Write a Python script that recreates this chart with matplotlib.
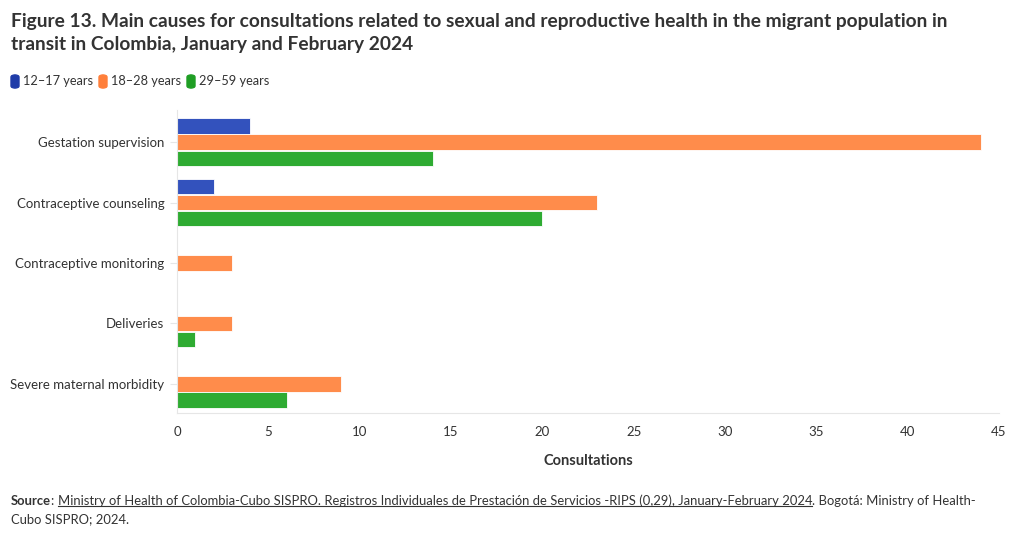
import matplotlib
matplotlib.use("Agg")
import matplotlib.pyplot as plt
import numpy as np
from matplotlib.patches import FancyBboxPatch

plt.rcParams["font.family"] = ["Lato", "DejaVu Sans"]

categories = [
    "Gestation supervision",
    "Contraceptive counseling",
    "Contraceptive monitoring",
    "Deliveries",
    "Severe maternal morbidity",
]
series_names = ["12\u201317 years", "18\u201328 years", "29\u201359 years"]
age_12_17 = [4, 2, 0, 0, 0]
age_18_28 = [44, 23, 3, 3, 9]
age_29_59 = [14, 20, 0, 1, 6]
x_ticks = [0, 5, 10, 15, 20, 25, 30, 35, 40, 45]

colors = ["#3352bd", "#ff8c4b", "#2eab32"]
legend_colors = ["#1f3ca8", "#ff7f3a", "#1f9e24"]
text_color = "#333333"

W, H = 1020, 538
fig = plt.figure(figsize=(W / 100, H / 100), dpi=100)
ax = fig.add_axes([177 / W, 1 - 413 / H, (999 - 177) / W, (413 - 110) / H])

y = np.arange(len(categories))
step = 0.265
bh = 0.25
for k, vals in enumerate([age_12_17, age_18_28, age_29_59]):
    ax.barh(y + (k - 1) * step, vals, height=bh, color=colors[k],
            edgecolor="white", linewidth=0.6)

ax.set_xlim(0, 45)
ax.set_ylim(4.48, -0.53)
ax.set_xticks(x_ticks)
ax.set_xticklabels([str(t) for t in x_ticks], fontsize=9.5, color=text_color)
ax.set_yticks(y)
ax.set_yticklabels(categories, fontsize=9.5, color=text_color)
ax.tick_params(axis="x", length=0, pad=9)
ax.tick_params(axis="y", length=5, color="#e6e6e6", pad=4)
for s in ["top", "right"]:
    ax.spines[s].set_visible(False)
ax.spines["left"].set_color("#e6e6e6")
ax.spines["bottom"].set_color("#e6e6e6")
ax.set_xlabel("Consultations", fontsize=10.5, fontweight="bold",
              color=text_color, labelpad=12)

# title
fig.text(11 / W, 1 - 13 / H,
         "Figure 13. Main causes for consultations related to sexual and reproductive health in the migrant population in\n"
         "transit in Colombia, January and February 2024",
         fontsize=13.8, fontweight="bold", color=text_color, va="top", ha="left",
         linespacing=1.4)

# legend
lx = 11
for name, c in zip(series_names, legend_colors):
    fig.patches.append(FancyBboxPatch((lx / W, 1 - 88 / H), 8 / W, 13 / H,
                                      boxstyle="round,pad=0,rounding_size=0.004",
                                      transform=fig.transFigure, color=c))
    t = fig.text((lx + 12) / W, 1 - 81 / H, name, fontsize=9.2,
                 color=text_color, va="center", ha="left")
    fig.canvas.draw()
    bb = t.get_window_extent()
    lx = bb.x1 + 6

# source with underlined part
fig.canvas.draw()
renderer = fig.canvas.get_renderer()
sy = 1 - 501 / H
parts = [
    ("Source", "bold", False),
    (": ", "normal", False),
    ("Ministry of Health of Colombia-Cubo SISPRO. Registros Individuales de Prestaci\u00f3n de Servicios -RIPS (0,29), January-February 2024",
     "normal", True),
    (". Bogot\u00e1: Ministry of Health-", "normal", False),
]
sx = 11
for txt, wt, ul in parts:
    t = fig.text(sx / W, sy, txt, fontsize=9.4, fontweight=wt, color=text_color,
                 va="center", ha="left")
    bb = t.get_window_extent(renderer)
    if ul:
        uy = bb.y0 + 1
        fig.add_artist(plt.Line2D([bb.x0 / W, bb.x1 / W], [uy / H, uy / H],
                                  transform=fig.transFigure, color=text_color,
                                  linewidth=0.8))
    sx = bb.x1
fig.text(11 / W, 1 - 519 / H, "Cubo SISPRO; 2024.", fontsize=9.4,
         color=text_color, va="center", ha="left")

fig.savefig("out.png", dpi=100, facecolor="white")
